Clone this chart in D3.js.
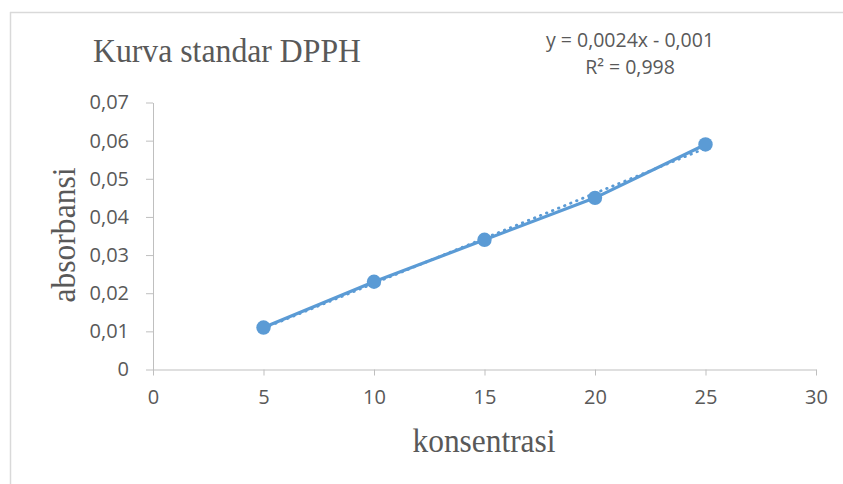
<!DOCTYPE html>
<html>
<head>
<meta charset="utf-8">
<script src="https://cdn.jsdelivr.net/npm/d3@7"></script>
<style>
  html, body { margin: 0; padding: 0; background: #fff; }
  svg { display: block; }
</style>
</head>
<body>
<svg id="chart" width="843" height="484"></svg>
<script>
// ---- data ----
const konsentrasi = [5, 10, 15, 20, 25];
const absorbansi = [0.011, 0.023, 0.034, 0.045, 0.059];
const xTicks = [0, 5, 10, 15, 20, 25, 30];
const yTicks = [0, 0.01, 0.02, 0.03, 0.04, 0.05, 0.06, 0.07];
const titleText = "Kurva standar DPPH";
const xTitle = "konsentrasi";
const yTitle = "absorbansi";
const equationLines = ["y = 0,0024x - 0,001", "R² = 0,998"];

// ---- layout ----
const svg = d3.select("#chart");
const W = 843, H = 484;
const x0 = 153, x1 = 816, y0 = 369.5, y1 = 102.5;
const x = d3.scaleLinear().domain([0, 30]).range([x0, x1]);
const y = d3.scaleLinear().domain([0, 0.07]).range([y0, y1]);
const blue = "#5b9bd5";
const axisGrey = "#bfbfbf";
const textGrey = "#595959";
const fmt = d => d === 0 ? "0" : d3.format(".2f")(d).replace(".", ",");

// chart frame (top and left edges visible)
svg.append("line").attr("x1", 10).attr("x2", W).attr("y1", 12.5).attr("y2", 12.5)
  .attr("stroke", "#d9d9d9").attr("stroke-width", 1.5);
svg.append("line").attr("x1", 10.5).attr("x2", 10.5).attr("y1", 12).attr("y2", H)
  .attr("stroke", "#d9d9d9").attr("stroke-width", 1.5);

// y axis
const yAxis = svg.append("g").attr("transform", `translate(${x0},0)`)
  .call(d3.axisLeft(y).tickValues(yTicks).tickFormat(fmt).tickSizeInner(7).tickSizeOuter(0).tickPadding(17));
yAxis.select(".domain").attr("stroke", axisGrey);
yAxis.selectAll(".tick line").attr("stroke", axisGrey);
yAxis.selectAll(".tick text").attr("fill", textGrey)
  .style("font-family", "'Open Sans', sans-serif").style("font-size", "20px");

// x axis
const xAxis = svg.append("g").attr("transform", `translate(0,${y0})`)
  .call(d3.axisBottom(x).tickValues(xTicks).tickFormat(d => d).tickSizeInner(6).tickSizeOuter(0).tickPadding(14));
xAxis.select(".domain").attr("stroke", axisGrey);
xAxis.selectAll(".tick line").attr("stroke", axisGrey);
xAxis.selectAll(".tick text").attr("fill", textGrey)
  .style("font-family", "'Open Sans', sans-serif").style("font-size", "20px");

// series line
const pts = konsentrasi.map((k, i) => [k, absorbansi[i]]);
svg.append("path").datum(pts)
  .attr("d", d3.line().x(d => x(d[0])).y(d => y(d[1])))
  .attr("fill", "none").attr("stroke", blue).attr("stroke-width", 3.2)
  .attr("stroke-linejoin", "round").attr("stroke-linecap", "round");

// linear trendline (least squares from the data)
const mx = d3.mean(konsentrasi), my = d3.mean(absorbansi);
const slope = d3.sum(pts, d => (d[0] - mx) * (d[1] - my)) / d3.sum(pts, d => (d[0] - mx) ** 2);
const intercept = my - slope * mx;
const ext = d3.extent(konsentrasi);
svg.append("path").datum(ext.map(k => [k, slope * k + intercept]))
  .attr("d", d3.line().x(d => x(d[0])).y(d => y(d[1])))
  .attr("fill", "none").attr("stroke", blue).attr("stroke-width", 2.8)
  .attr("stroke-linecap", "round").attr("stroke-dasharray", "0.5,6");

// markers
svg.selectAll("circle.pt").data(pts).enter().append("circle")
  .attr("class", "pt")
  .attr("cx", d => x(d[0])).attr("cy", d => y(d[1])).attr("r", 7.2)
  .attr("fill", blue);

// title
svg.append("text").attr("x", 93).attr("y", 62)
  .attr("textLength", 268).attr("lengthAdjust", "spacingAndGlyphs")
  .style("font-family", "'Liberation Serif', 'Times New Roman', serif").style("font-size", "34px")
  .attr("fill", textGrey).text(titleText);

// axis titles
svg.append("text").attr("x", 484).attr("y", 452).attr("text-anchor", "middle")
  .attr("textLength", 143).attr("lengthAdjust", "spacingAndGlyphs")
  .style("font-family", "'Liberation Serif', 'Times New Roman', serif").style("font-size", "34px")
  .attr("fill", textGrey).text(xTitle);
svg.append("text").attr("transform", "translate(75,235) rotate(-90)").attr("text-anchor", "middle")
  .attr("textLength", 135).attr("lengthAdjust", "spacingAndGlyphs")
  .style("font-family", "'Liberation Serif', 'Times New Roman', serif").style("font-size", "34px")
  .attr("fill", textGrey).text(yTitle);

// trendline equation label
svg.append("g").selectAll("text").data(equationLines).enter().append("text")
  .attr("x", 630).attr("y", (d, i) => 47 + i * 26.8).attr("text-anchor", "middle")
  .style("font-family", "'Open Sans', sans-serif").style("font-size", "19.5px")
  .attr("fill", textGrey).text(d => d);
</script>
</body>
</html>
